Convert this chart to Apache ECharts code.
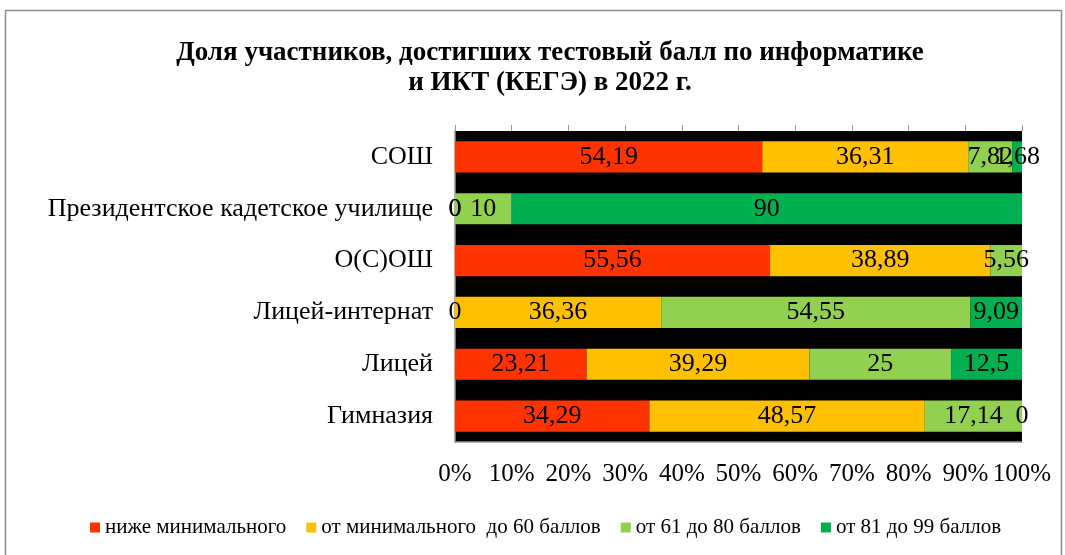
<!DOCTYPE html>
<html>
<head>
<meta charset="utf-8">
<script src="https://cdn.jsdelivr.net/npm/echarts@6/dist/echarts.min.js"></script>
<style>
  html, body { margin: 0; padding: 0; background: #fff; }
  #chart { width: 1065px; height: 555px; }
</style>
</head>
<body>
<div id="chart"></div>
<script>
const categories = ['СОШ', 'Президентское кадетское училище', 'О(С)ОШ', 'Лицей-интернат', 'Лицей', 'Гимназия']
const seriesNames = ['ниже минимального', 'от минимального  до 60 баллов', 'от 61 до 80 баллов', 'от 81 до 99 баллов']
const belowMin = [54.19, 0, 55.56, 0, 23.21, 34.29]
const minTo60 = [36.31, 0, 38.89, 36.36, 39.29, 48.57]
const from61to80 = [7.82, 10, 5.56, 54.55, 25, 17.14]
const from81to99 = [1.68, 90, 0, 9.09, 12.5, 0]
const tickLabels = ['0%', '10%', '20%', '30%', '40%', '50%', '60%', '70%', '80%', '90%', '100%']

const colors = ['#FF3300', '#FFC000', '#92D050', '#00B050']
const font = 'Liberation Serif'

const chart = echarts.init(document.getElementById('chart'))

const mkSeries = (name, data, color) => ({
  name,
  type: 'bar',
  stack: 'total',
  barWidth: '60%',
  xAxisIndex: 0,
  itemStyle: { color },
  label: {
    show: true,
    position: 'inside',
    color: '#000',
    fontFamily: font,
    fontSize: 26,
    formatter: p => String(p.value).replace('.', ',')
  },
  data
})

const option = {
  animation: false,
  title: {
    text: 'Доля участников, достигших тестовый балл по информатике\nи ИКТ (КЕГЭ) в 2022 г.',
    left: 545,
    top: 33,
    textAlign: 'center',
    textStyle: {
      fontFamily: font,
      fontWeight: 'bold',
      fontSize: 27,
      lineHeight: 30,
      color: '#000'
    }
  },
  graphic: [{
    type: 'rect',
    shape: { x: 5.5, y: 10.5, width: 1056, height: 560 },
    style: { fill: 'none', stroke: '#8c8c8c', lineWidth: 1.5 },
    silent: true
  }],
  legend: {
    left: 85,
    top: 512,
    icon: 'rect',
    itemWidth: 10,
    itemHeight: 10,
    itemGap: 20,
    textStyle: { fontFamily: font, fontSize: 21, color: '#000' },
    data: seriesNames
  },
  grid: {
    left: 455,
    right: 43,
    top: 131,
    height: 311,
    backgroundColor: '#000',
    show: true,
    borderWidth: 0
  },
  xAxis: [{
    type: 'value',
    min: 0,
    max: 100,
    interval: 10,
    position: 'bottom',
    axisLine: { show: true, lineStyle: { color: '#999', width: 1.5 } },
    axisTick: { show: false },
    splitLine: { show: false },
    axisLabel: {
      margin: 20,
      color: '#000',
      fontFamily: font,
      fontSize: 25,
      formatter: (v) => tickLabels[Math.round(v / 10)]
    }
  }, {
    type: 'value',
    min: 0,
    max: 100,
    interval: 10,
    position: 'top',
    axisLine: { show: false },
    axisTick: { show: true, length: 6, lineStyle: { color: '#999' } },
    splitLine: { show: false },
    axisLabel: { show: false }
  }],
  yAxis: {
    type: 'category',
    inverse: true,
    data: categories,
    axisLine: { show: true, lineStyle: { color: '#999', width: 1.5 } },
    axisTick: { show: false },
    axisLabel: {
      margin: 22,
      color: '#000',
      fontFamily: font,
      fontSize: 26
    }
  },
  series: [
    mkSeries(seriesNames[0], belowMin, colors[0]),
    mkSeries(seriesNames[1], minTo60, colors[1]),
    mkSeries(seriesNames[2], from61to80, colors[2]),
    mkSeries(seriesNames[3], from81to99, colors[3])
  ]
}

chart.setOption(option)
</script>
</body>
</html>
